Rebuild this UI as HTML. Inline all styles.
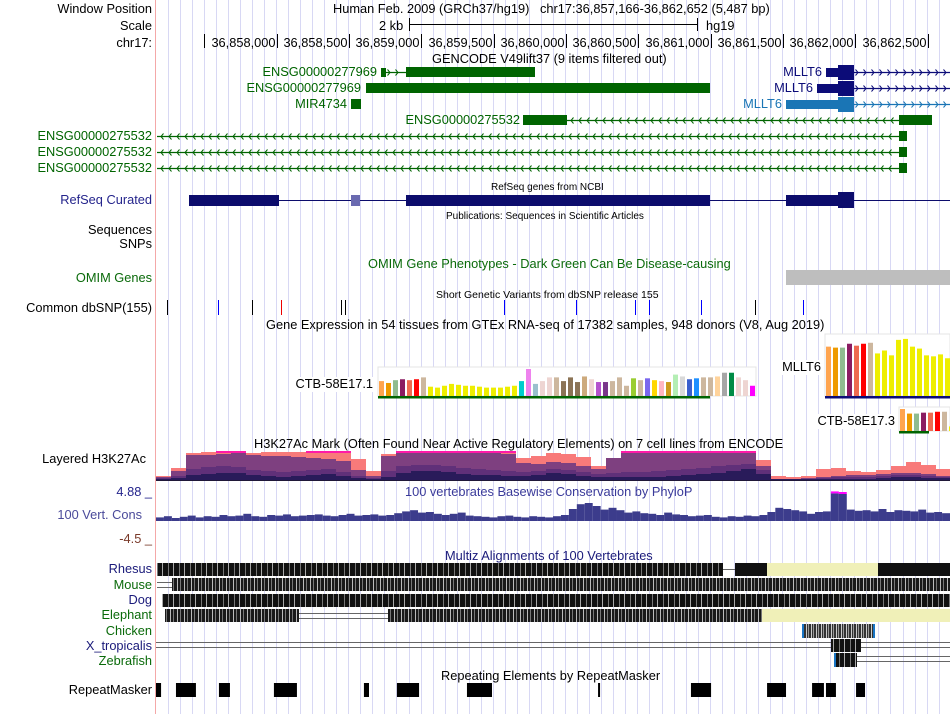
<!DOCTYPE html>
<html><head><meta charset="utf-8">
<style>
html,body{margin:0;padding:0;background:#fff;}
svg{display:block;font-family:"Liberation Sans",sans-serif;}
text{font-size:12.8px;}
</style></head>
<body>
<svg id="s" width="950" height="714" viewBox="0 0 950 714" xmlns="http://www.w3.org/2000/svg">
<rect x="0" y="0" width="950" height="714" fill="#fff"/>
<g id="grid"></g>
<line x1="155.5" y1="0" x2="155.5" y2="714" stroke="#f4a8a8" stroke-width="1"/>

<g fill="#000">
<text x="152" y="13" text-anchor="end">Window Position</text>
<text x="152" y="30" text-anchor="end">Scale</text>
<text x="152" y="47" text-anchor="end">chr17:</text>
<text x="333" y="13">Human Feb. 2009 (GRCh37/hg19)&#160;&#160;&#160;chr17:36,857,166-36,862,652 (5,487 bp)</text>
<text x="379" y="30">2 kb</text>
<line x1="409" y1="24.5" x2="697" y2="24.5" stroke="#000"/>
<line x1="409.5" y1="18" x2="409.5" y2="31" stroke="#000"/>
<line x1="697.5" y1="18" x2="697.5" y2="31" stroke="#000"/>
<text x="706" y="30">hg19</text>
</g>
<g id="ruler"></g>

<text x="432" y="63">GENCODE V49lift37 (9 items filtered out)</text>
<g id="gencode" fill="#006400">
<text x="377" y="76" text-anchor="end">ENSG00000277969</text>
<text x="361" y="92" text-anchor="end">ENSG00000277969</text>
<text x="347" y="108" text-anchor="end">MIR4734</text>
<text x="520" y="124" text-anchor="end">ENSG00000275532</text>
<text x="152" y="140" text-anchor="end">ENSG00000275532</text>
<text x="152" y="156" text-anchor="end">ENSG00000275532</text>
<text x="152" y="172" text-anchor="end">ENSG00000275532</text>
<rect x="381" y="68" width="5" height="9"/>
<rect x="406" y="67" width="129" height="10"/>
<rect x="366" y="83" width="344" height="10"/>
<rect x="351" y="99" width="10" height="10"/>
<rect x="523" y="115" width="44" height="10"/>
<rect x="899" y="115" width="33" height="10"/>
<rect x="899" y="131" width="8" height="10"/>
<rect x="899" y="147" width="8" height="10"/>
<rect x="899" y="163" width="8" height="10"/>
</g>
<g>
<text x="822" y="76" text-anchor="end" fill="#0c0c78">MLLT6</text>
<text x="813" y="92" text-anchor="end" fill="#0c0c78">MLLT6</text>
<text x="782" y="108" text-anchor="end" fill="#1a75b5">MLLT6</text>
<rect x="826" y="68" width="12" height="9" fill="#0c0c78"/>
<rect x="838" y="65" width="16" height="15" fill="#0c0c78"/>
<rect x="817" y="84" width="21" height="9" fill="#0c0c78"/>
<rect x="838" y="81" width="16" height="15" fill="#0c0c78"/>
<rect x="786" y="100" width="52" height="9" fill="#1a75b5"/>
<rect x="838" y="97" width="16" height="15" fill="#1a75b5"/>
</g>
<g id="arrows"></g>

<text x="491" y="190" style="font-size:10px">RefSeq genes from NCBI</text>
<text x="152" y="204" text-anchor="end" fill="#24248c">RefSeq Curated</text>
<g fill="#0c0c6c">
<line x1="189" y1="200.5" x2="950" y2="200.5" stroke="#0c0c6c"/>
<rect x="189" y="195" width="90" height="11"/>
<rect x="351" y="195" width="9" height="11" fill="#6a6ab0"/>
<rect x="406" y="195" width="304" height="11"/>
<rect x="786" y="195" width="52" height="11"/>
<rect x="838" y="192" width="16" height="16"/>
</g>
<text x="446" y="219" style="font-size:10px">Publications: Sequences in Scientific Articles</text>
<text x="152" y="234" text-anchor="end">Sequences</text>
<text x="152" y="248" text-anchor="end">SNPs</text>
<text x="368" y="268" fill="#0a6a0a">OMIM Gene Phenotypes - Dark Green Can Be Disease-causing</text>
<text x="152" y="282" text-anchor="end" fill="#0a6a0a">OMIM Genes</text>
<rect x="786" y="270" width="164" height="15" fill="#bebebe"/>
<text x="436" y="298" style="font-size:10.5px">Short Genetic Variants from dbSNP release 155</text>
<text x="152" y="312" text-anchor="end">Common dbSNP(155)</text>
<g id="snps"></g>

<text x="266" y="329">Gene Expression in 54 tissues from GTEx RNA-seq of 17382 samples, 948 donors (V8, Aug 2019)</text>
<g id="gtex"></g>

<g id="h3k"></g>
<text x="254" y="448">H3K27Ac Mark (Often Found Near Active Regulatory Elements) on 7 cell lines from ENCODE</text>
<text x="146" y="463" text-anchor="end">Layered H3K27Ac</text>

<text x="152" y="496" text-anchor="end" fill="#24248c">4.88 _</text>
<text x="405" y="496" fill="#3a3a9a">100 vertebrates Basewise Conservation by PhyloP</text>
<text x="142" y="519" text-anchor="end" fill="#4a4a9a">100 Vert. Cons</text>
<text x="152" y="543" text-anchor="end" fill="#7a3a2a">-4.5 _</text>
<g id="phylop"></g>

<text x="445" y="560" fill="#1a1a7a">Multiz Alignments of 100 Vertebrates</text>
<defs>
<pattern id="pA" width="11" height="10" patternUnits="userSpaceOnUse"><rect width="11" height="10" fill="#111"/><rect x="3" width="1" height="10" fill="#777"/><rect x="8" width="1" height="10" fill="#aaa"/></pattern>
<pattern id="pB" width="7" height="10" patternUnits="userSpaceOnUse"><rect width="7" height="10" fill="#1a1a1a"/><rect x="2" width="1" height="10" fill="#bbb"/><rect x="5" width="1" height="10" fill="#777"/></pattern>
<pattern id="pC" width="5" height="10" patternUnits="userSpaceOnUse"><rect width="5" height="10" fill="#333"/><rect x="1" width="1" height="10" fill="#ccc"/><rect x="3" width="1" height="10" fill="#999"/></pattern>
</defs>
<g>
<text x="152" y="573" text-anchor="end" fill="#1a1a7a">Rhesus</text>
<text x="152" y="589" text-anchor="end" fill="#0a6a0a">Mouse</text>
<text x="152" y="604" text-anchor="end" fill="#1a1a7a">Dog</text>
<text x="152" y="619" text-anchor="end" fill="#0a6a0a">Elephant</text>
<text x="152" y="635" text-anchor="end" fill="#0a6a0a">Chicken</text>
<text x="152" y="650" text-anchor="end" fill="#1a1a7a">X_tropicalis</text>
<text x="152" y="665" text-anchor="end" fill="#0a6a0a">Zebrafish</text>
<rect x="157" y="563" width="566" height="13" fill="url(#pA)"/>
<line x1="723" y1="569.5" x2="735" y2="569.5" stroke="#666"/>
<rect x="735" y="563" width="32" height="13" fill="#111"/>
<rect x="767" y="563" width="111" height="13" fill="#f0f0b8"/>
<rect x="878" y="563" width="72" height="13" fill="#111"/>
<line x1="157" y1="582.5" x2="172" y2="582.5" stroke="#666"/>
<line x1="157" y1="587.5" x2="172" y2="587.5" stroke="#666"/>
<rect x="172" y="578" width="778" height="13" fill="url(#pB)"/>
<rect x="162" y="594" width="788" height="13" fill="url(#pA)"/>
<rect x="165" y="609" width="134" height="13" fill="url(#pB)"/>
<line x1="299" y1="613.5" x2="388" y2="613.5" stroke="#666"/>
<line x1="299" y1="618.5" x2="388" y2="618.5" stroke="#666"/>
<rect x="388" y="609" width="374" height="13" fill="url(#pB)"/>
<rect x="762" y="609" width="188" height="13" fill="#f0f0b8"/>
<rect x="802" y="624" width="2" height="14" fill="#1a75c5"/>
<rect x="804" y="624" width="70" height="14" fill="url(#pC)"/>
<rect x="873" y="624" width="2" height="14" fill="#1a75c5"/>
<line x1="156" y1="642.5" x2="950" y2="642.5" stroke="#666"/>
<line x1="156" y1="647.5" x2="950" y2="647.5" stroke="#666"/>
<rect x="831" y="639" width="30" height="13" fill="url(#pA)"/>
<line x1="857" y1="656.5" x2="950" y2="656.5" stroke="#666"/>
<line x1="857" y1="661.5" x2="950" y2="661.5" stroke="#666"/>
<rect x="834" y="653" width="2" height="14" fill="#1a75c5"/>
<rect x="836" y="653" width="21" height="14" fill="url(#pA)"/>
</g>

<text x="441" y="680">Repeating Elements by RepeatMasker</text>
<text x="152" y="694" text-anchor="end">RepeatMasker</text>
<g id="rmsk"></g>
</svg>

<script>
// ---- data ----
const rulerTicks = ["36,858,000","36,858,500","36,859,000","36,859,500","36,860,000","36,860,500","36,861,000","36,861,500","36,862,000","36,862,500"];
const rulerPos = [36858000,36858500,36859000,36859500,36860000,36860500,36861000,36861500,36862000,36862500];
const snpPos = [36857242,36857594,36857829,36858030,36858444,36858472,36859571,36860069,36860476,36860573,36860932,36861306,36861637];
const snpColor = ["#000","#00f","#000","#e00","#000","#000","#00f","#00f","#00f","#00f","#00f","#000","#00f"];
const tissueColors = ["#FFA54F","#EE9A00","#8FBC8F","#8B1C62","#EE6A50","#FF0000","#CDB79E","#EEEE00","#EEEE00","#EEEE00","#EEEE00","#EEEE00","#EEEE00","#EEEE00","#EEEE00","#EEEE00","#EEEE00","#EEEE00","#EEEE00","#EEEE00","#00CDCD","#EE82EE","#9AC0CD","#EED5D2","#EED5D2","#CDB79E","#8B7355","#8B7355","#8B7355","#CDAA7D","#EED5D2","#B452CD","#7A378B","#CDB79E","#CDB79E","#CDB79E","#9ACD32","#CDB79E","#7A67EE","#FFD700","#FFB6C1","#CD9B1D","#B4EEB4","#D9D9D9","#3A5FCD","#1E90FF","#CDB79E","#CDB79E","#FFD39B","#A6A6A6","#008B45","#EED5D2","#EED5D2","#FF00FF"];
const ctb1Values = [16,14,17,18,17,18,20,10,9,11,13,12,11,11,10,9,9,9,10,11,16,29,13,16,20,20,16,20,15,21,18,15,15,16,20,11,19,17,19,17,16,15,23,21,18,19,20,20,21,25,25,20,17,11];
const mllt6Values = [51,50,50,54,52,54,55,44,47,42,58,59,51,49,42,41,43,39,40,38,40,42,40,39,40,41,40,40,40,40,40,40,40,40,40,40,40,40,40,40,40,40,40,40,40,40,40,40,40,40,40,40,40,40];
const ctb3Values = [24,19,19,20,20,21,21,5,5,5,5,5,5,5,5,5,5,5,5,5,5,5,5,5,5,5,5,5,5,5,5,5,5,5,5,5,5,5,5,5,5,5,5,5,5,5,5,5,5,5,5,5,5,5];
const h3Salmon = [4,12,27,28,29,29,27,28,28,28,29,29,29,21,9,26,29,29,29,29,29,29,29,29,22,24,27,26,23,14,22,29,29,29,29,29,29,29,29,29,20,4,3,4,11,12,9,8,10,14,18,15,11];
const h3Purple = [3,9,25,25,26,27,25,24,24,23,22,21,19,10,4,24,27,27,27,27,27,27,27,26,17,16,18,17,14,11,22,27,27,27,27,27,27,27,27,27,14,1,1,2,3,4,5,5,6,7,7,6,4];
const h3Mid = [2,4,11,13,14,13,10,9,8,9,10,11,8,4,2,9,14,15,15,14,12,11,10,9,8,9,11,10,8,6,7,8,8,9,10,11,12,14,15,16,10,1,1,1,2,3,3,3,4,5,5,4,3];
const h3Navy = [1,2,5,6,7,7,5,4,3,4,5,6,4,2,1,3,7,9,9,8,6,5,5,4,4,5,7,6,4,3,3,3,3,3,4,5,6,7,9,11,6,1,1,1,1,1,1,1,2,3,3,2,2];
const phyloValues = [0.6,0.8,0.5,0.7,0.9,0.6,0.8,0.7,1.0,0.8, 0.9,1.2,0.8,0.7,1.0,0.9,1.1,0.8,0.9,1.0, 1.1,0.9,0.8,1.0,1.2,0.9,1.0,1.1,0.9,1.0, 1.3,1.6,1.8,1.4,1.5,1.2,1.0,1.2,1.4,0.9, 0.8,0.7,0.6,0.8,0.9,0.7,0.6,0.8,0.7,0.6, 0.8,1.0,2.0,2.8,3.0,2.5,1.9,2.2,1.8,1.4, 1.6,1.3,1.2,1.0,1.4,1.1,1.0,0.8,0.9,1.0, 0.7,0.6,0.8,0.7,0.9,0.8,1.0,1.5,2.2,2.0, 1.8,1.6,1.2,1.5,1.6,4.6,4.5,1.9,1.7,1.8, 1.6,2.0,1.5,1.8,1.7,1.6,1.9,1.4,1.5,1.3];
const rmskStart = [36857166,36857304,36857601,36857981,36858603,36858831,36859315,36860221,36860863,36861389,36861700,36861796,36862004];
const rmskEnd   = [36857201,36857442,36857677,36858140,36858638,36858984,36859488,36860234,36861002,36861520,36861782,36861865,36862066];

// ---- helpers ----
const NS = "http://www.w3.org/2000/svg";
function el(tag, parent, attrs){const e=document.createElementNS(NS,tag);for(const k in attrs)e.setAttribute(k,attrs[k]);parent.appendChild(e);return e;}
function xPos(bp){return 156 + (bp-36857166)*0.1447;}

const grid=document.getElementById('grid');
for(let x=167.5;x<950;x+=12.05){
  const l=el('line',grid,{x1:Math.round(x)+0.5,y1:0,x2:Math.round(x)+0.5,y2:714,stroke:'#d8d8f4'});
  
  
}
const ruler=document.getElementById('ruler');
const firstTick=el('line',ruler,{x1:Math.round(xPos(36857500))+0.5,y1:34,x2:Math.round(xPos(36857500))+0.5,y2:48,stroke:'#000'});


rulerPos.forEach((p,i)=>{
  const x=Math.round(xPos(p))+0.5;
  const t=el('line',ruler,{x1:x,y1:34,x2:x,y2:48,stroke:'#000'});
  
  
  const tx=el('text',ruler,{x:x-2,y:47,'text-anchor':'end'});
  tx.textContent=rulerTicks[i];
  
  
});

const arrows=document.getElementById('arrows');
function intron(x1,x2,y,dir,color,name){
  const l=el('line',arrows,{x1:x1,y1:y+0.5,x2:x2,y2:y+0.5,stroke:color,'stroke-width':1.2});
  
  
  let d='';
  for(let x=x1+4;x<x2-2;x+=8){
    d+= dir<0 ? `M${x+2.5},${y-2.5}L${x},${y+0.5}L${x+2.5},${y+3.5}` : `M${x-2.5},${y-2.5}L${x},${y+0.5}L${x-2.5},${y+3.5}`;
  }
  const p=el('path',arrows,{d:d,stroke:color,fill:'none','stroke-width':1});
  
  
}
intron(386,406,72,1,'#006400','intron-277969-a');
intron(567,899,120,-1,'#006400','intron-275532-a');
intron(157,899,136,-1,'#006400','intron-275532-b');
intron(157,899,152,-1,'#006400','intron-275532-c');
intron(157,899,168,-1,'#006400','intron-275532-d');
intron(854,950,72,1,'#0c0c78','intron-mllt6-a');
intron(854,950,88,1,'#0c0c78','intron-mllt6-b');
intron(854,950,104,1,'#1a75b5','intron-mllt6-c');

const snps=document.getElementById('snps');
snpPos.forEach((p,i)=>{
  const x=Math.round(xPos(p))+0.5;
  const l=el('line',snps,{x1:x,y1:300,x2:x,y2:315,stroke:snpColor[i]});
  
  
});

const gtex=document.getElementById('gtex');
function gtexChart(x0,top,base,maxH,vals,label,lx,ly,under,uw,name){
  const bg=el('rect',gtex,{x:x0,y:top,width:Math.min(378,950-x0),height:base-top,fill:'#fff',stroke:'#e4e4e4'});
  
  
  const lb=el('rect',gtex,{x:lx-label.length*7.4-2,y:ly-11,width:label.length*7.4+4,height:15,fill:'#fff'});
  
  
  const t=el('text',gtex,{x:lx,y:ly,'text-anchor':'end'});
  t.textContent=label;
  
  
  vals.forEach((v,i)=>{
    const x=x0+1+i*7; if(x>=950) return;
    const h=v/ maxH*(base-top-2);
    const r=el('rect',gtex,{x:x,y:base-h,width:5,height:h,fill:tissueColors[i]});
    
    
  });
  const u=el('rect',gtex,{x:x0,y:base,width:uw,height:2.5,fill:under});
  
  
}
gtexChart(378,367,396,29,ctb1Values,'CTB-58E17.1',373,388,'#006400',332,'gtex-ctb58e17-1');
gtexChart(825,334,396,62,mllt6Values,'MLLT6',821,371,'#0c0c78',125,'gtex-mllt6');
gtexChart(899,407,431,24,ctb3Values,'CTB-58E17.3',895,425,'#006400',30,'gtex-ctb58e17-3');

const h3=document.getElementById('h3k');
const H3BASE=480, H3STEP=15;
function area(vals,color,op,name){
  let d=`M156,${H3BASE}`;
  vals.forEach((v,i)=>{const x=156+i*H3STEP; d+=`L${x},${H3BASE-v}L${x+H3STEP},${H3BASE-v}`;});
  d+=`L950,${H3BASE}Z`;
  const p=el('path',h3,{d:d,fill:color,'fill-opacity':op});
  
  
}
area(h3Salmon,'#f87a7a',1,'h3k27ac-layer-1');
area(h3Purple,'#7e4080',1,'h3k27ac-layer-2');
area(h3Mid,'#5a2e78',0.85,'h3k27ac-layer-3');
area(h3Navy,'#241a56',0.9,'h3k27ac-layer-4');
h3Salmon.forEach((v,i)=>{
  if(v>=29){
    const r=el('rect',h3,{x:156+i*H3STEP,y:H3BASE-29,width:H3STEP,height:2,fill:'#ff1aa8'});
    
    
  }
});
const h3b=el('line',h3,{x1:156,y1:480.5,x2:950,y2:480.5,stroke:'#201838'});



const ph=document.getElementById('phylop');
const PBASE=521, PSCALE=6.0, PW=794/phyloValues.length;
phyloValues.forEach((v,i)=>{
  const x=156+i*PW;
  const h=v*PSCALE;
  const r=el('rect',ph,{x:x,y:PBASE-h,width:PW,height:h,fill:'#3c3c8c'});
  
  
  if(v>=4.5){
    const m=el('rect',ph,{x:x,y:PBASE-h-2,width:PW,height:2,fill:'#ff00ff'});
    
    
  }
});

const rm=document.getElementById('rmsk');
rmskStart.forEach((s,i)=>{
  const x1=xPos(s), x2=xPos(rmskEnd[i]);
  const r=el('rect',rm,{x:x1,y:683,width:Math.max(2,x2-x1),height:14,fill:'#000'});
  
  
});
</script>
</body></html>
